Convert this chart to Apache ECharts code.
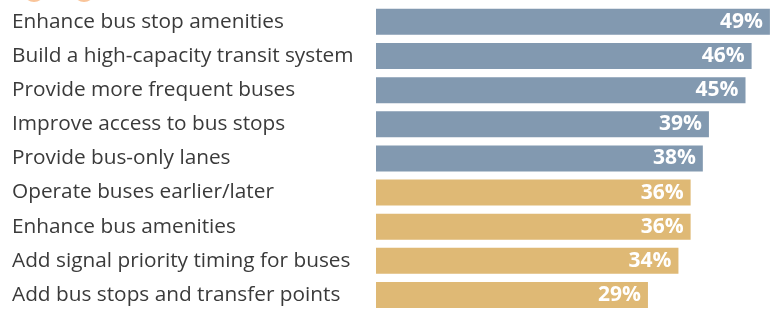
<!DOCTYPE html>
<html>
<head>
<meta charset="utf-8">
<script src="https://cdn.jsdelivr.net/npm/echarts@6/dist/echarts.min.js"></script>
<style>
  html, body { margin: 0; padding: 0; background: #fff; }
  #chart { width: 783px; height: 312px; }
</style>
</head>
<body>
<div id="chart"></div>
<script>
var categories = [
    'Enhance bus stop amenities',
    'Build a high-capacity transit system',
    'Provide more frequent buses',
    'Improve access to bus stops',
    'Provide bus-only lanes',
    'Operate buses earlier/later',
    'Enhance bus amenities',
    'Add signal priority timing for buses',
    'Add bus stops and transfer points'
];
var values = [49, 46, 45, 39, 38, 36, 36, 34, 29];
// first five bars blue, the rest gold
var groups = ['top', 'top', 'top', 'top', 'top', 'other', 'other', 'other', 'other'];
var groupColors = { top: '#8299B0', other: '#DFB975' };

var chart = echarts.init(document.getElementById('chart'));

var barData = values.map(function (v, i) {
    return { value: v, itemStyle: { color: groupColors[groups[i]] } };
});

var option = {
    animation: false,
    grid: { left: 376, top: 4.8, width: 400, height: 309.4, containLabel: false },
    xAxis: {
        type: 'value',
        min: -15.6,
        max: 50,
        startValue: -15.6,
        show: false
    },
    yAxis: {
        type: 'category',
        inverse: true,
        data: categories,
        axisLine: { show: false },
        axisTick: { show: false },
        axisLabel: {
            align: 'left',
            margin: 364,
            color: '#3a3a3a',
            fontFamily: 'Open Sans',
            fontSize: 20.8
        }
    },
    series: [{
        type: 'bar',
        data: barData,
        barWidth: 26,
        label: {
            show: true,
            position: 'insideRight',
            distance: 7,
            color: '#fff',
            fontFamily: 'Open Sans',
            fontWeight: 'bold',
            fontSize: 21,
            formatter: '{c}%'
        }
    }],
    graphic: [
        { type: 'circle', shape: { cx: 34, cy: -9, r: 11 }, style: { fill: '#F9C499' } },
        { type: 'circle', shape: { cx: 84, cy: -9, r: 11 }, style: { fill: '#F9C499' } }
    ]
};
chart.setOption(option);
</script>
</body>
</html>
